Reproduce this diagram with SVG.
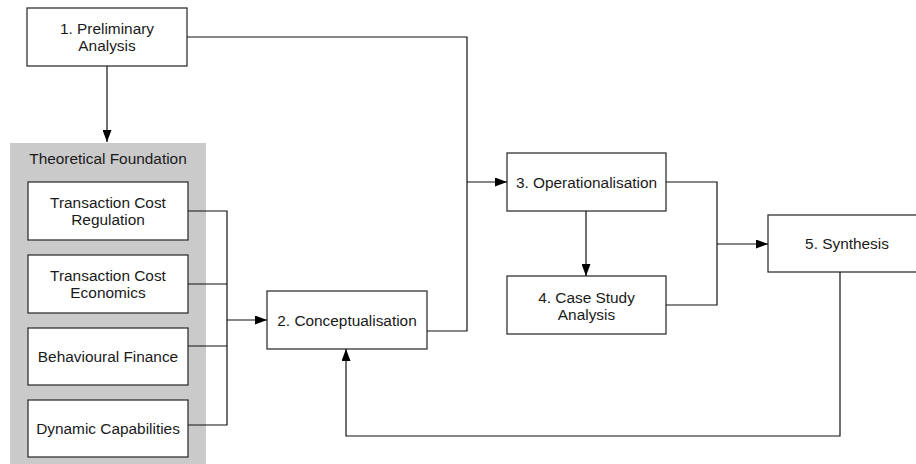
<svg xmlns="http://www.w3.org/2000/svg" width="916" height="464" viewBox="0 0 916 464">
  <defs>
    <marker id="arrow" viewBox="0 0 12 9" refX="12" refY="4.5" markerWidth="12" markerHeight="9" markerUnits="userSpaceOnUse" orient="auto">
      <path d="M0,0 L12,4.5 L0,9 Z" fill="#000"/>
    </marker>
    <style>
      .box { fill: #fff; stroke: #333; stroke-width: 1.3; }
      .group { fill: #cacaca; stroke: none; }
      .label { font-family: "Liberation Sans", Arial, Helvetica, sans-serif; font-size: 15.4px; fill: #1a1a1a; text-anchor: middle; }
      .wire { fill: none; stroke: #111; stroke-width: 1.2; }
      .arrowed { marker-end: url(#arrow); }
    </style>
  </defs>
  <rect width="916" height="464" fill="#fff"/>

  <!-- Theoretical foundation container -->
  <g id="theoretical-foundation">
    <rect class="group" x="10" y="143" width="196" height="321"/>
    <text class="label" x="108" y="163.5">Theoretical Foundation</text>
  </g>

  <g id="tcr">
    <rect class="box" x="28" y="182" width="160" height="58"/>
    <text class="label" x="108" y="207.5">Transaction Cost</text>
    <text class="label" x="108" y="225">Regulation</text>
  </g>
  <g id="tce">
    <rect class="box" x="28" y="255" width="160" height="58"/>
    <text class="label" x="108" y="280.5">Transaction Cost</text>
    <text class="label" x="108" y="298">Economics</text>
  </g>
  <g id="bf">
    <rect class="box" x="28" y="328" width="160" height="57"/>
    <text class="label" x="108" y="362">Behavioural Finance</text>
  </g>
  <g id="dc">
    <rect class="box" x="28" y="400" width="160" height="57"/>
    <text class="label" x="108" y="434">Dynamic Capabilities</text>
  </g>

  <g id="preliminary-analysis">
    <rect class="box" x="27" y="8" width="160" height="58"/>
    <text class="label" x="107" y="33.5">1. Preliminary</text>
    <text class="label" x="107" y="51">Analysis</text>
  </g>
  <g id="conceptualisation">
    <rect class="box" x="267" y="291" width="160" height="58"/>
    <text class="label" x="347" y="325.5">2. Conceptualisation</text>
  </g>
  <g id="operationalisation">
    <rect class="box" x="507" y="153" width="159" height="58"/>
    <text class="label" x="586.5" y="187.5">3. Operationalisation</text>
  </g>
  <g id="case-study">
    <rect class="box" x="507" y="276" width="159" height="58"/>
    <text class="label" x="586.5" y="302.5">4. Case Study</text>
    <text class="label" x="586.5" y="320">Analysis</text>
  </g>
  <g id="synthesis">
    <rect class="box" x="768" y="215" width="158" height="57"/>
    <text class="label" x="847" y="249">5. Synthesis</text>
  </g>

  <g id="connectors">
    <!-- 1 -> theoretical foundation -->
    <path class="wire arrowed" d="M107,66 V142"/>
    <!-- 1 and 2 -> 3 -->
    <path class="wire" d="M187,37 H467 V182"/>
    <path class="wire" d="M427,331 H467 V182"/>
    <path class="wire arrowed" d="M467,182 H507"/>
    <!-- theories -> 2 -->
    <path class="wire" d="M188,211 H227 V425 H188"/>
    <path class="wire" d="M188,284 H227"/>
    <path class="wire" d="M188,346 H227"/>
    <path class="wire arrowed" d="M227,320 H267"/>
    <!-- 3 -> 4 -->
    <path class="wire arrowed" d="M586,211 V276"/>
    <!-- 3 and 4 -> 5 -->
    <path class="wire" d="M666,182 H717 V305 H666"/>
    <path class="wire arrowed" d="M717,244 H768"/>
    <!-- 5 -> 2 feedback -->
    <path class="wire arrowed" d="M840,272 V436 H346 V349"/>
  </g>
</svg>
